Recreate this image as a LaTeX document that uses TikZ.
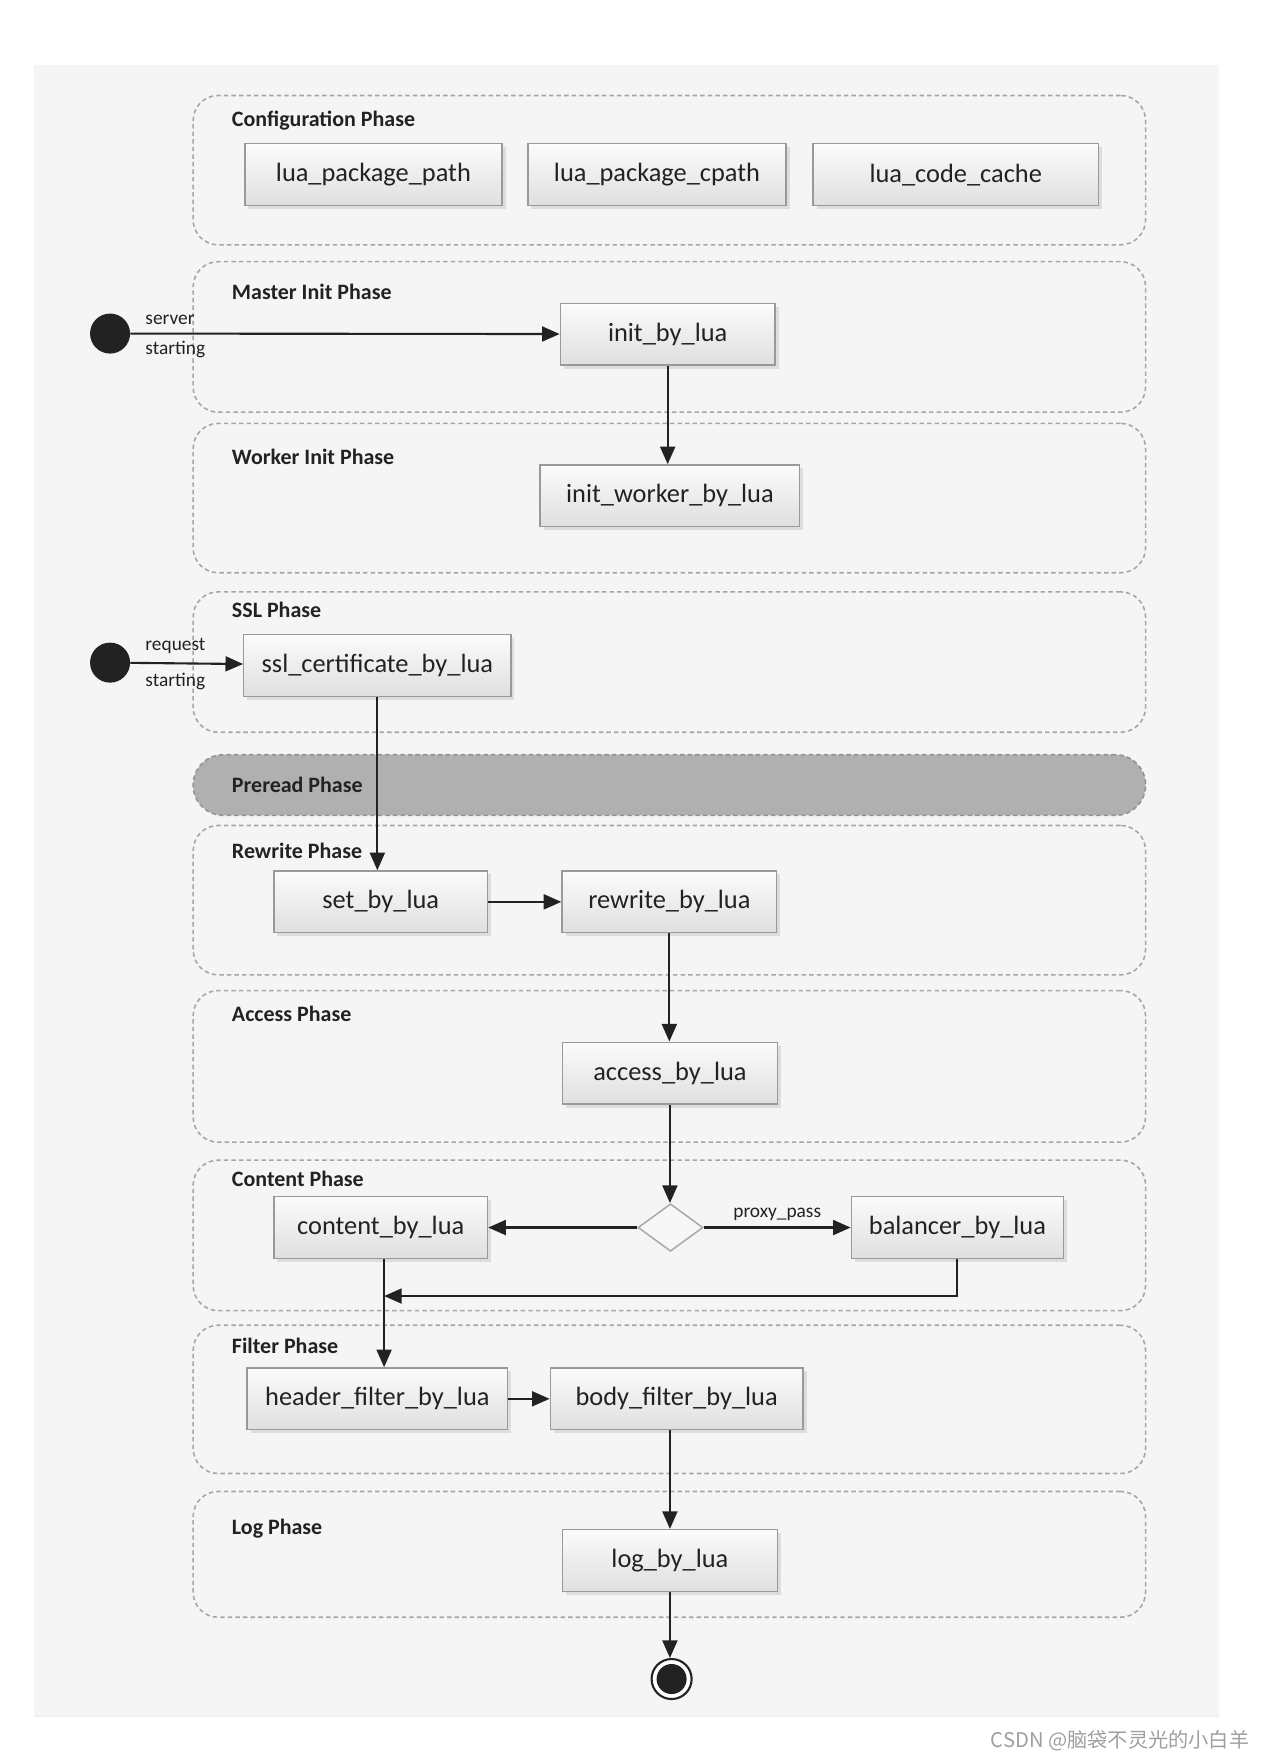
\documentclass[tikz,border=0pt]{standalone}
\usepackage{fontspec}
\setmainfont{Carlito}
\newfontfamily\cjkfont{Noto Sans CJK SC}
\usetikzlibrary{positioning,fit,shapes.geometric,arrows.meta,shadows}

\definecolor{pagebg}{HTML}{F5F5F5}
\definecolor{inkdark}{HTML}{222222}

\begin{document}
\begin{tikzpicture}[
  x=0.02245cm, y=-0.02245cm,
  node distance=0.85cm and 1.45cm,
  phase/.style={draw=gray!70, dash pattern=on 2.5pt off 1.8pt, line width=0.9pt,
                rounded corners=0.5cm, inner sep=0pt},
  preread/.style={fill=gray!62, draw=gray!85, rounded corners=0.6cm},
  title/.style={anchor=west, text=inkdark, font=\fontsize{12.5}{15}\selectfont\bfseries},
  box/.style={draw=gray!80, line width=0.8pt, top color=gray!3, bottom color=gray!25,
              minimum width=4.29cm, minimum height=1.235cm, inner sep=2pt,
              text=inkdark, font=\fontsize{15}{18}\selectfont,
              drop shadow={shadow xshift=2pt, shadow yshift=-2pt, fill=gray!45}},
  decision/.style={diamond, draw=gray!65, fill=gray!6, line width=0.9pt,
                   minimum width=1.3cm, minimum height=0.95cm, inner sep=0pt},
  startdot/.style={circle, fill=inkdark, minimum size=0.8cm, inner sep=0pt},
  enddot/.style={circle, draw=inkdark, line width=1.2pt, fill=white,
                 minimum size=0.8cm, inner sep=0pt,
                 path picture={\fill[inkdark] (path picture bounding box.center) circle (0.3cm);}},
  lbl/.style={anchor=west, text=inkdark, font=\fontsize{11}{13}\selectfont},
  arr/.style={-{Triangle[length=10pt,width=8.5pt]}, line width=1.2pt, draw=inkdark}
]
\useasboundingbox (0,0) rectangle (1132,1568);
\fill[pagebg] (30,58) rectangle (1085,1528);
\draw[gray!12, line width=1pt] (30,1528) -- (1085,1528);

% Phases
\node[phase, fit={(172,85) (1020,218)}] (configph) {};
\node[phase, fit={(172,233) (1020,367)}] (masterph) {};
\node[phase, fit={(172,377) (1020,510)}] (workerph) {};
\node[phase, fit={(172,527) (1020,652)}] (sslph) {};
\node[phase, preread, fit={(172,672) (1020,726)}] (prereadph) {};
\node[phase, fit={(172,735) (1020,868)}] (rewriteph) {};
\node[phase, fit={(172,882) (1020,1017)}] (accessph) {};
\node[phase, fit={(172,1033) (1020,1167)}] (contentph) {};
\node[phase, fit={(172,1180) (1020,1312)}] (filterph) {};
\node[phase, fit={(172,1328) (1020,1440)}] (logph) {};

\node[title] (configt) at (201,107) {Configuration Phase};
\node[title] (mastert) at (201,260) {Master Init Phase};
\node[title] (workert) at (201,407) {Worker Init Phase};
\node[title] (sslt) at (201,543) {SSL Phase};
\node[title] (prereadt) at (201,699) {Preread Phase};
\node[title] (rewritet) at (201,758) {Rewrite Phase};
\node[title] (accesst) at (201,903) {Access Phase};
\node[title] (contentt) at (201,1050) {Content Phase};
\node[title] (filtert) at (201,1198) {Filter Phase};
\node[title] (logt) at (201,1361) {Log Phase};

% Configuration
\node[box, minimum width=5.14cm] (pkgpath) at (332.5,155.5) {lua\_package\_path};
\node[box, minimum width=5.16cm] (pkgcpath) at (585,155.5) {lua\_package\_cpath};
\node[box, minimum width=5.70cm] (codecache) at (851,155.5) {lua\_code\_cache};

% Init
\node[startdot] (srvstart) at (98,297) {};
\node[lbl] (srvlbl) at (124,285) {server};
\node[lbl] (srvlbl2) at (124,311) {starting};
\node[box] (initlua) at (594.5,297.5) {init\_by\_lua};
\node[box, minimum width=5.19cm] (workerlua) at (596.5,441.5) {init\_worker\_by\_lua};

% SSL
\node[startdot] (reqstart) at (98,590) {};
\node[lbl] (reqlbl) at (124,575) {request};
\node[lbl] (reqlbl2) at (124,607) {starting};
\node[box, minimum width=5.34cm] (ssllua) at (336,592.5) {ssl\_certificate\_by\_lua};

% Rewrite / Access
\node[box, minimum width=4.27cm] (setlua) at (339,803) {set\_by\_lua};
\node[box, right=1.46cm of setlua] (rewritelua) {rewrite\_by\_lua};
\node[box] (accesslua) at (596.5,955.5) {access\_by\_lua};

% Content
\node[decision] (choice) at (597,1093) {};
\node[box, minimum width=4.27cm] (contentlua) at (339,1093) {content\_by\_lua};
\node[box, minimum width=4.24cm] (balancerlua) at (852.5,1093) {balancer\_by\_lua};
\coordinate (rejoin) at (342,1154);

% Filter / Log
\node[box, minimum width=5.21cm] (headerlua) at (336,1245.5) {header\_filter\_by\_lua};
\node[box, minimum width=5.05cm] (bodylua) at (602.5,1245.5) {body\_filter\_by\_lua};
\node[box] (loglua) at (596.5,1389.5) {log\_by\_lua};
\node[enddot] (finish) at (598,1495) {};

\node[anchor=east, text=gray!75, font=\cjkfont\fontsize{11.5}{14}\selectfont] (mark) at (1118,1550)
  {CSDN @脑袋不灵光的小白羊};

% Arrows
\draw[arr] (srvstart) -- (initlua);
\draw[arr] (initlua) -- (initlua.south |- workerlua.north);
\draw[arr] (reqstart) -- (ssllua);
\draw[arr] (ssllua.south) -- (ssllua.south |- setlua.north);
\draw[arr] (setlua) -- (rewritelua);
\draw[arr] (rewritelua.south) -- (rewritelua.south |- accesslua.north);
\draw[arr] (accesslua.south) -- (accesslua.south |- choice.north);
\draw[arr] (choice) -- (contentlua);
\draw[arr] (choice) -- node[above, text=inkdark, font=\fontsize{11}{13}\selectfont] {proxy\_pass} (balancerlua);
\draw[arr] (balancerlua.south) |- (rejoin);
\draw[arr] (contentlua.south -| rejoin) -- (rejoin |- headerlua.north);
\draw[arr] (headerlua) -- (bodylua);
\draw[arr] (loglua.north |- bodylua.south) -- (loglua.north);
\draw[arr] (loglua.south) -- (loglua.south |- finish.north);
\end{tikzpicture}
\end{document}
